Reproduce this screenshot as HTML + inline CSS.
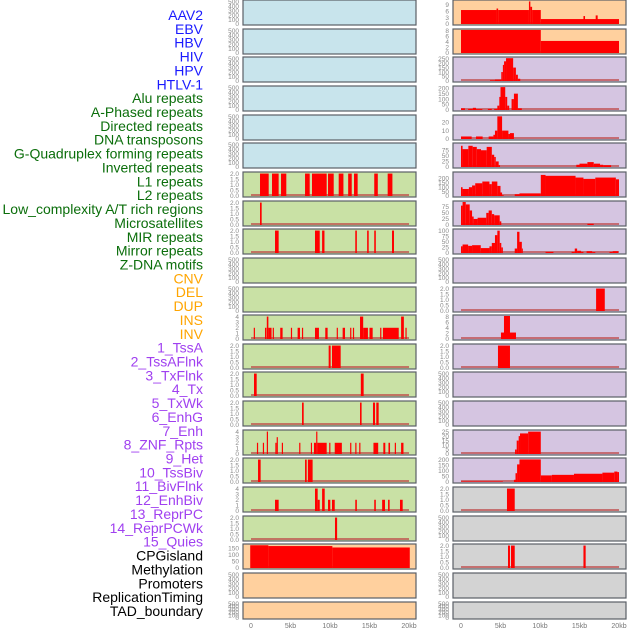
<!DOCTYPE html>
<html><head><meta charset="utf-8"><style>
html,body{margin:0;padding:0;background:#fff;width:630px;height:630px;overflow:hidden}
svg{display:block;font-family:"Liberation Sans",sans-serif}
</style></head><body>
<svg id="chart" width="630" height="630" viewBox="0 0 630 630" xmlns="http://www.w3.org/2000/svg"></svg>
<script>
// ---- data (segments: [startKb, endKb, value]) ----
const labels = ["AAV2","EBV","HBV","HIV","HPV","HTLV-1","Alu repeats","A-Phased repeats","Directed repeats","DNA transposons","G-Quadruplex forming repeats","Inverted repeats","L1 repeats","L2 repeats","Low_complexity A/T rich regions","Microsatellites","MIR repeats","Mirror repeats","Z-DNA motifs","CNV","DEL","DUP","INS","INV","1_TssA","2_TssAFlnk","3_TxFlnk","4_Tx","5_TxWk","6_EnhG","7_Enh","8_ZNF_Rpts","9_Het","10_TssBiv","11_BivFlnk","12_EnhBiv","13_ReprPC","14_ReprPCWk","15_Quies","CPGisland","Methylation","Promoters","ReplicationTiming","TAD_boundary"];
const labelGroups = [0,0,0,0,0,0,1,1,1,1,1,1,1,1,1,1,1,1,1,2,2,2,2,2,3,3,3,3,3,3,3,3,3,3,3,3,3,3,3,4,4,4,4,4];
const xTicks = [0,5,10,15,20];
const xTickLabels = ["0","5kb","10kb","15kb","20kb"];

const L6 = [[1.14,2.24,2],[2.66,3.5,2],[3.8,4.47,2],[6.84,7.43,2],[7.72,9.58,2],[9.75,10.47,2],[11.1,11.7,2],[12.3,12.75,2],[13.04,13.5,2],[15.6,16.05,2],[17.3,17.9,2]];
const L7 = [[1.14,1.35,2]];
const L8 = [[3.04,3.5,2],[8.1,8.7,2],[9.0,9.3,2],[13.2,13.4,2],[14.7,14.9,2],[15.6,15.8,2],[17.85,18.1,2]];
const L11 = [[0.35,0.5,2],[1.77,1.95,2],[2.0,2.2,4],[2.2,2.6,2],[2.75,2.9,2],[3.7,4.0,2],[5.05,5.2,2],[5.9,6.2,2],[6.45,6.6,2],[8.1,8.6,2],[9.4,9.7,2],[10.85,11.0,2],[11.6,11.9,2],[12.55,12.7,2],[12.9,13.05,2],[13.8,14.2,4],[14.2,14.8,2],[15.0,15.4,2],[16.35,16.5,2],[16.7,18.7,2],[19.0,19.35,4],[19.55,19.7,2]];
const L12 = [[9.83,10.08,2],[10.25,11.35,2]];
const L13 = [[0.38,0.72,2],[13.9,14.26,2]];
const L14 = [[6.46,6.67,2],[13.8,14.0,2],[15.44,15.7,2],[15.86,16.16,2]];
const L15 = [[0.75,0.9,2],[1.5,1.65,2],[2.0,2.15,4],[3.08,3.25,2],[3.25,3.4,3],[3.9,4.05,2],[6.1,6.25,2],[7.58,7.72,2],[7.97,8.25,2],[8.25,8.4,4],[8.4,9.58,2],[9.9,10.05,2],[10.6,11.5,2],[12.55,12.7,2],[13.2,13.35,2],[13.7,13.85,2],[15.5,16.1,2],[16.75,17.0,2],[17.4,17.6,2],[18.2,18.35,2],[19.0,19.3,2]];
const L16 = [[0.89,1.22,2],[6.84,7.05,2],[7.2,7.8,2]];
const L17 = [[3.04,3.5,2],[8.1,8.44,4],[8.44,8.7,2],[9.0,9.33,4],[9.75,10.04,2],[10.25,10.6,2],[13.2,13.4,2],[15.6,15.8,2],[16.6,16.96,2],[17.35,17.55,2],[18.86,19.2,2]];
const L18 = [[10.63,10.9,2]];
const L19 = [[-0.1,2.2,174],[2.2,10.3,168],[10.3,20.1,157]];

const R0 = [[0,4.5,6.5],[4.5,4.7,7.2],[4.7,8.6,6.5],[8.6,8.78,10.5],[8.78,9.0,8],[9.0,10.1,6.5],[10.1,20,2.3],[15.5,15.7,3.7],[17.05,17.3,4]];
const R1 = [[0,10.1,8.2],[10.1,20,4.3]];
const R2 = [[3.67,4.3,8],[4.3,5.1,15],[5.1,5.3,100],[5.3,5.45,180],[5.45,5.7,220],[5.7,6.6,255],[6.6,6.95,150],[6.95,7.2,70],[7.2,7.5,25]];
const R3 = [[0,0.5,15],[0.9,1.5,10],[1.5,1.9,20],[1.9,2.7,8],[3.4,3.9,10],[4.2,4.6,10],[4.6,4.85,40],[4.85,5.0,120],[5.0,5.6,210],[5.6,5.85,120],[5.85,6.1,40],[6.4,6.7,100],[6.7,7.2,150],[7.2,7.7,15]];
const R4 = [[0,1.35,3],[1.9,2.74,3],[3.5,4.1,3],[4.1,4.3,5],[4.3,4.6,10],[4.6,5.2,27],[5.2,6.0,10],[6.0,6.2,6],[6.2,6.7,7]];
const R5 = [[0,0.2,95],[0.2,0.93,80],[0.93,1.48,95],[1.48,2.0,90],[2.0,2.53,80],[2.53,3.25,75],[3.25,3.9,90],[3.9,4.2,55],[4.2,4.4,45],[4.4,4.77,25],[4.77,4.94,8],[14.6,15.0,10],[15.0,16.0,15],[16.0,16.8,22],[16.8,17.6,15],[17.6,18.0,10],[18.0,19.0,8]];
const R6 = [[0,0.2,100],[0.2,1.0,80],[1.0,1.4,100],[1.4,1.8,120],[1.8,2.7,145],[2.7,3.6,165],[3.6,3.9,135],[3.9,4.6,165],[4.6,5.0,115],[5.0,5.2,40],[5.2,5.4,10],[6.8,7.4,20],[7.4,10.1,30],[10.1,10.7,240],[10.7,14.5,230],[14.5,15.5,210],[15.5,17.0,195],[17.0,19.6,210],[19.6,20,190]];
const R7 = [[0,0.2,80],[0.2,0.6,95],[0.6,1.1,85],[1.1,1.4,60],[1.4,1.6,35],[1.6,2.1,25],[2.1,3.2,30],[3.2,3.5,50],[3.5,3.9,60],[3.9,4.2,45],[4.2,4.9,40],[4.9,5.1,15],[16.0,16.8,5]];
const R8 = [[0,0.2,30],[0.2,0.9,38],[0.9,1.4,32],[1.4,2.5,35],[2.5,3.6,22],[3.6,3.9,30],[3.9,4.3,45],[4.3,4.6,80],[4.6,4.9,100],[4.9,5.1,45],[5.1,5.3,25],[6.8,7.1,20],[7.1,7.4,95],[7.4,7.7,50],[7.7,7.8,20],[10.7,11.7,5],[14.0,14.4,5],[14.4,14.7,20],[14.7,15.2,10],[15.2,15.5,5],[15.9,16.6,8],[16.6,17.0,4],[18.8,19.2,5],[19.2,19.9,8]];
const R10 = [[17.1,18.2,2]];
const R11 = [[5.06,6.96,2.3],[5.44,6.2,8.2]];
const R12 = [[4.68,6.2,2]];
const R15 = [[6.84,7.05,5],[7.05,7.3,15],[7.3,7.47,20],[7.47,8.5,23],[8.5,10.1,25]];
const R16 = [[0,5.3,5],[6.7,6.9,20],[6.9,7.1,80],[7.1,7.4,160],[7.4,10.1,205],[10.1,11.5,60],[11.5,14.3,65],[14.3,17.9,75],[17.9,19.4,85],[19.4,19.8,95],[19.8,20,90]];
const R17 = [[5.82,6.8,2]];
const R19 = [[5.95,6.2,2],[6.33,6.8,2],[15.5,15.78,2]];

const T500 = [0,100,200,300,400,500], T2 = [0,0.5,1,1.5,2], T4 = [0,1,2,3,4];
// [segments, axisMax, ticks] per row
const leftPanels = [
 [null,520,T500],[null,520,T500],[null,520,T500],[null,520,T500],[null,520,T500],[null,520,T500],
 [L6,2.05,T2],[L7,2.05,T2],[L8,2.05,T2],[null,520,T500],[null,520,T500],
 [L11,4.1,T4],[L12,2.05,T2],[L13,2.05,T2],[L14,2.05,T2],[L15,4.1,T4],[L16,2.05,T2],[L17,4.1,T4],[L18,2.05,T2],
 [L19,176,[0,50,100,150]],[null,520,T500],[null,520,T500]];
const rightPanels = [
 [R0,10.7,[0,3,6,9]],[R1,8.2,[0,2,4,6,8]],[R2,257,[0,50,100,150,200,250]],[R3,211,[0,50,100,150,200]],
 [R4,27.4,[0,10,20]],[R5,103,[0,25,50,75]],[R6,262,[0,50,100,150,200]],[R7,95,[0,25,50,75]],[R8,103,[0,25,50,75,100]],
 [null,520,T500],[R10,2.05,T2],[R11,8.2,[0,2,4,6,8]],[R12,2.05,T2],[null,520,T500],[null,520,T500],
 [R15,25.7,[0,5,10,15,20,25]],[R16,209,[0,50,100,150,200]],[R17,2.05,T2],[null,520,T500],[R19,2.05,T2],[null,520,T500],[null,520,T500]];
const leftColors = ["#c8e4ec","#c9e1a5","#ffd09e"];
const rightColors = ["#ffd09e","#d5c5e1","#d3d3d3"];
const groupColors = ["#1a1aff","#0b6e0b","#ffa500","#a040f0","#000000"];

// ---- drawing ----
const NS = "http://www.w3.org/2000/svg";
const svg = document.getElementById("chart");
function mk(tag, attrs, parent){const e=document.createElementNS(NS,tag);for(const k in attrs)e.setAttribute(k,attrs[k]);(parent||svg).appendChild(e);return e;}

labels.forEach((t,i)=>{
  const el = mk("text",{x:203,y:(15+i*13.86+5).toFixed(1),"text-anchor":"end","font-size":"14",fill:groupColors[labelGroups[i]]});
  el.textContent = t;
  
  
});

function fmt(v){return (Number.isInteger(v)&&v!==0&&false)?String(v):String(v);}
function drawColumn(panels, left, colorFn, side){
  const W = 173;
  const x0 = left + 8, x1 = left + 166;
  const xs = kb => x0 + (kb/20)*(x1-x0);
  panels.forEach((p,i)=>{
    const top = Math.round(i*28.65);
    const h = i===21 ? 17 : 25;
    const g = mk("g",{});
    
    
    const bg = mk("rect",{x:left,y:top,width:W,height:h,fill:colorFn(i),stroke:"#5a5f66","stroke-width":1.2},g);
    
    
    const ys = v => (top+h-1) - (v/p[1])*(h-2);
    p[2].forEach(t=>{
      const tl = mk("text",{x:left-4,y:(ys(t)+2.2).toFixed(1),"text-anchor":"end","font-size":"6.5",fill:"#8a8a8a"},g);
      tl.textContent = (p[2]===T2)? t.toFixed(1) : String(t);
      
      
    });
    if(p[0]){
      const base = mk("rect",{x:xs(0),y:top+h-3,width:xs(20)-xs(0),height:2,fill:"rgba(190,70,70,0.7)"},g);
      
      
      p[0].forEach(s=>{
        const y = ys(Math.min(s[2],p[1]));
        const b = mk("rect",{x:xs(s[0]).toFixed(2),y:y.toFixed(2),width:Math.max(1,xs(s[1])-xs(s[0])).toFixed(2),height:(top+h-1-y).toFixed(2),fill:"#ff0000"},g);
        
        
      });
    }
  });
  xTicks.forEach((t,k)=>{
    const tl = mk("text",{x:xs(t),y:628,"text-anchor":"middle","font-size":"7",fill:"#777"});
    tl.textContent = xTickLabels[k];
    
    
  });
}
drawColumn(leftPanels, 243, i => i<6?leftColors[0]:(i<19?leftColors[1]:leftColors[2]), "left");
drawColumn(rightPanels, 453, i => i<2?rightColors[0]:(i<17?rightColors[1]:rightColors[2]), "right");
</script>
</body></html>
